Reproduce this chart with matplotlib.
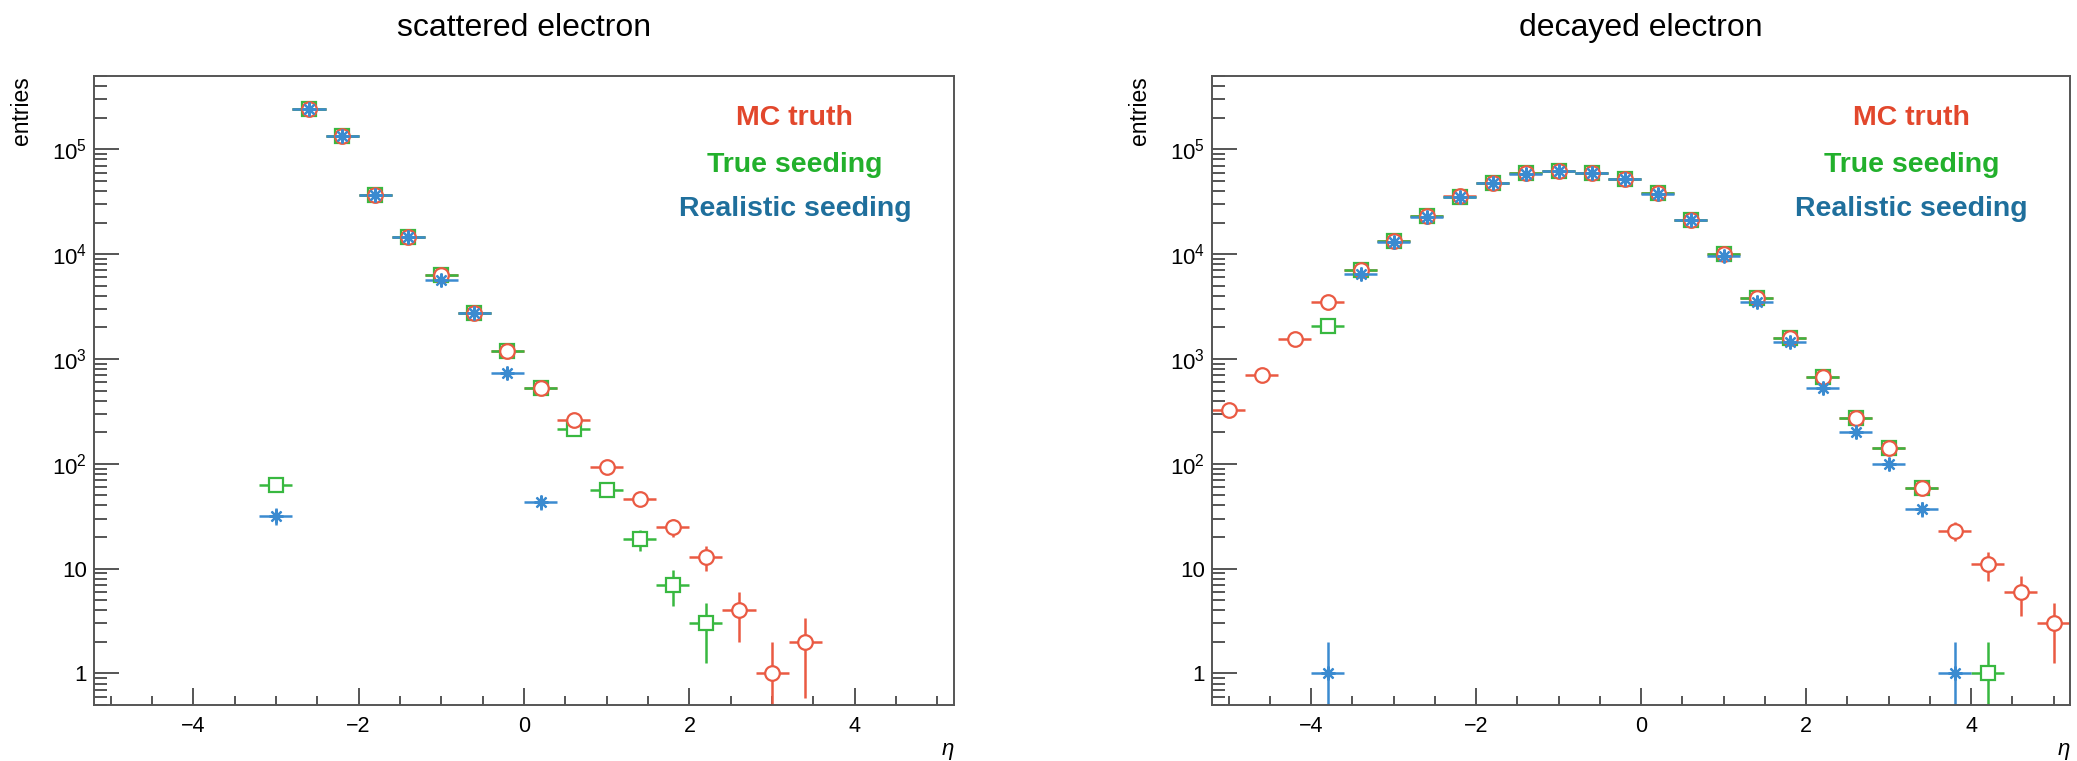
import numpy as np
import matplotlib
matplotlib.use("Agg")
import matplotlib.pyplot as plt
from matplotlib.ticker import FixedLocator, MultipleLocator, LogLocator, NullFormatter, FuncFormatter

plt.rcParams['font.family'] = ['Liberation Sans', 'DejaVu Sans']
plt.rcParams['axes.unicode_minus'] = True

nan = np.nan

# scattered electron, bins of width 0.4 in eta
scat_eta = [-3.0, -2.6, -2.2, -1.8, -1.4, -1.0, -0.6, -0.2, 0.2, 0.6, 1.0, 1.4, 1.8, 2.2, 2.6, 3.0, 3.4]
scat_mc = [nan, 2.42e5, 1.35e5, 3.66e4, 1.45e4, 6370, 2720, 1200, 525, 261, 94, 46, 25, 13, 4, 1, 2]
scat_true = [63, 2.42e5, 1.35e5, 3.66e4, 1.45e4, 6370, 2720, 1200, 525, 216, 56, 19, 7, 3, nan, nan, nan]
scat_real = [32, 2.42e5, 1.35e5, 3.66e4, 1.45e4, 5630, 2720, 736, 43, nan, nan, nan, nan, nan, nan, nan, nan]

# decayed electron
dec_eta = [-5.0, -4.6, -4.2, -3.8, -3.4, -3.0, -2.6, -2.2, -1.8, -1.4, -1.0, -0.6, -0.2,
           0.2, 0.6, 1.0, 1.4, 1.8, 2.2, 2.6, 3.0, 3.4, 3.8, 4.2, 4.6, 5.0]
dec_mc = [326, 708, 1560, 3470, 7000, 13200, 22900, 36000, 47900, 58800, 62400, 59300, 52400,
          38000, 21200, 10000, 3830, 1570, 668, 271, 141, 59, 23, 11, 6, 3]
dec_true = [nan, nan, nan, 2070, 7000, 13200, 22900, 35400, 47900, 58800, 62400, 59300, 52400,
            38000, 21200, 10000, 3830, 1570, 668, 271, 141, 59, nan, 1, nan, nan]
dec_real = [nan, nan, nan, 1, 6500, 13100, 22800, 35200, 47800, 58600, 62200, 59100, 52200,
            37800, 21000, 9500, 3510, 1440, 528, 200, 100, 37, 1, nan, nan, nan]

bin_half = 0.2
titles = ['scattered electron', 'decayed electron']
series_names = ['MC truth', 'True seeding', 'Realistic seeding']
text_colors = ['#e2472c', '#22b02c', '#1f6f9c']
mark_colors = ['#ea5a43', '#38b840', '#3b8bd0']
y_ticks = [1, 10, 1e2, 1e3, 1e4, 1e5]


def ylab(v, pos):
    if v == 1:
        return '1'
    if v == 10:
        return '10'
    return r'$\mathregular{10^{%d}}$' % round(np.log10(v))


def draw_panel(ax, eta, mc, true, real, title):
    eta = np.array(eta)
    data = [np.array(mc, float), np.array(true, float), np.array(real, float)]
    # error bars first (hidden under the white-filled markers, like ROOT)
    for y, c in zip(data, mark_colors):
        ok = ~np.isnan(y)
        ax.errorbar(eta[ok], y[ok], xerr=bin_half, yerr=np.sqrt(y[ok]), fmt='none',
                    ecolor=c, elinewidth=1.8, capsize=0, zorder=2)
    ok = ~np.isnan(data[1])
    ax.plot(eta[ok], data[1][ok], 's', ms=10, mfc='white', mec=mark_colors[1], mew=1.6, zorder=3)
    ok = ~np.isnan(data[0])
    ax.plot(eta[ok], data[0][ok], 'o', ms=10.5, mfc='white', mec=mark_colors[0], mew=1.6, zorder=4)
    ok = ~np.isnan(data[2])
    ax.plot(eta[ok], data[2][ok], marker=(8, 2, 0), ls='none', ms=10, mec=mark_colors[2],
            mew=1.6, zorder=5)

    ax.set_yscale('log')
    ax.set_xlim(-5.2, 5.2)
    ax.set_ylim(0.5, 5e5)
    ax.xaxis.set_major_locator(FixedLocator([-4, -2, 0, 2, 4]))
    ax.xaxis.set_minor_locator(MultipleLocator(0.5))
    ax.yaxis.set_major_locator(FixedLocator(y_ticks))
    ax.yaxis.set_major_formatter(FuncFormatter(ylab))
    ax.yaxis.set_minor_locator(LogLocator(base=10, subs=np.arange(2, 10)))
    ax.yaxis.set_minor_formatter(NullFormatter())

    ax.tick_params(axis='x', which='major', direction='in', length=12, width=1.4,
                   color='#555555', labelsize=15.5, pad=8, top=False)
    ax.tick_params(axis='x', which='minor', direction='in', length=6.5, width=1.4,
                   color='#555555', top=False)
    ax.tick_params(axis='y', which='major', direction='in', length=18, width=1.4,
                   color='#555555', labelsize=16, pad=5, right=False)
    ax.tick_params(axis='y', which='minor', direction='in', length=9, width=1.4,
                   color='#555555', right=False)
    for s in ax.spines.values():
        s.set_color('#555555')
        s.set_linewidth(1.4)

    ax.text(0.5, 1.0636, title, transform=ax.transAxes, ha='center', va='baseline', fontsize=23)
    ax.text(-0.084, 1.0, 'entries', transform=ax.transAxes, rotation=90, ha='center', va='top',
            fontsize=16.5)
    ax.text(1.0, -0.0715, 'η', transform=ax.transAxes, ha='right', va='center',
            fontsize=16, style='italic')

    for name, c, yy in zip(series_names, text_colors, [0.934, 0.859, 0.789]):
        ax.text(0.815, yy, name, transform=ax.transAxes, ha='center', va='center',
                color=c, fontsize=20.5, fontweight='bold')


fig = plt.figure(figsize=(20.77, 7.61), dpi=100)
ax1 = fig.add_axes([94 / 2077, 56 / 761, 860 / 2077, 629 / 761])
ax2 = fig.add_axes([1212 / 2077, 56 / 761, 858 / 2077, 629 / 761])

draw_panel(ax1, scat_eta, scat_mc, scat_true, scat_real, titles[0])
draw_panel(ax2, dec_eta, dec_mc, dec_true, dec_real, titles[1])

fig.savefig('out.png', dpi=100)
